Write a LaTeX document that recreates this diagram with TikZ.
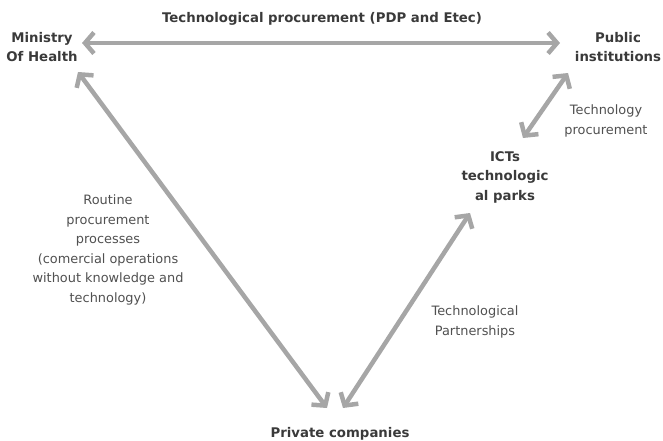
\documentclass[tikz,border=0pt]{standalone}
\usepackage{fontspec}
\setmainfont{DejaVu Sans}
\usetikzlibrary{calc,positioning,arrows.meta}
\definecolor{linkgray}{HTML}{A6A6A6}
\definecolor{textgray}{HTML}{3A3A3A}
\definecolor{notegray}{HTML}{505050}
\tikzstyle{actor} = [align=center, inner sep=0pt, text=textgray, font=\fontsize{13.3}{19.5}\selectfont\bfseries]
\tikzstyle{note}  = [align=center, inner sep=0pt, text=notegray, font=\fontsize{12.9}{19.5}\selectfont]
\tikzstyle{flow}  = [line width=4.5pt, draw=linkgray, {Straight Barb[length=9pt,width=21pt]}-{Straight Barb[length=9pt,width=21pt]}]

\begin{document}
\begin{tikzpicture}[x=1pt,y=-1pt]
	\useasboundingbox (0,0) rectangle (663,441);

	% the four parties
	\node[actor] (moh)  at (42,47)   {Ministry\\Of Health};
	\node[actor] (pub)  at (618,47)  {Public\\institutions};
	\node[actor] (ict)  at (505,177) {ICTs\\technologic\\al parks};
	\node[actor] (priv) at (340,434) {Private companies};

	% relations between them
	\draw[flow] ($(moh)+(40,-4)$) -- ($(pub)+(-58,-4)$);
	\draw[flow] ($(moh)+(36,25)$) -- ($(priv)+(-13,-26)$);
	\draw[flow] ($(pub)+(-50,26)$) -- ($(ict)+(18,-39)$);
	\draw[flow] ($(ict)+(-35,36)$) -- ($(priv)+(3,-26)$);

	% labels on the relations
	\node[actor] (tpdp)    at (322,19)  {Technological procurement (PDP and Etec)};
	\node[note]  (tproc)   at (606,121) {Technology\\procurement};
	\node[note]  (routine) at (108,250) {Routine\\procurement\\processes\\(comercial operations\\without knowledge and\\technology)};
	\node[note]  (tpart)   at (475,322) {Technological\\Partnerships};
\end{tikzpicture}
\end{document}
